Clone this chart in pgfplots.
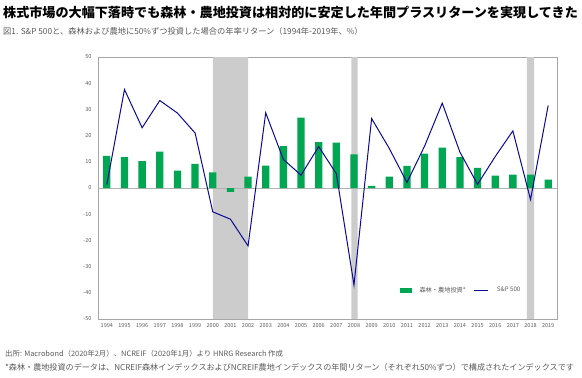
\documentclass[border=0pt]{standalone}
\usepackage{pgfplots}
\pgfplotsset{compat=1.18}
\usepackage{fontspec}
\setmainfont{Noto Sans CJK JP}
\definecolor{bargreen}{RGB}{0,166,81}
\definecolor{linenavy}{RGB}{10,10,150}
\definecolor{shade}{RGB}{204,204,204}
\definecolor{txtgray}{RGB}{90,90,90}
\begin{document}
\begin{tikzpicture}
\path[use as bounding box] (0,0) rectangle (582pt,378pt);
\node[anchor=west, inner sep=0pt] at (3pt,366pt) {\fontsize{13.1}{15}\selectfont\bfseries 株式市場の大幅下落時でも森林・農地投資は相対的に安定した年間プラスリターンを実現してきた};
\node[anchor=west, inner sep=0pt, text=txtgray] at (3pt,347pt) {\fontsize{8.25}{10}\selectfont 図1. S\&P 500と、森林および農地に50\%ずつ投資した場合の年率リターン（1994年-2019年、\%）};
\node[anchor=west, inner sep=0pt, text=txtgray] at (5pt,24pt) {\fontsize{7.4}{8}\selectfont 出所: Macrobond（2020年2月）、NCREIF（2020年1月）より HNRG Research 作成};
\node[anchor=west, inner sep=0pt, text=txtgray] at (5pt,11pt) {\fontsize{8.1}{9}\selectfont *森林・農地投資のデータは、NCREIF森林インデックスおよびNCREIF農地インデックスの年間リターン（それぞれ50\%ずつ）で構成されたインデックスです};
\begin{axis}[
  at={(98pt,59pt)}, anchor=south west,
  width=459pt, height=262pt, scale only axis,
  xmin=-0.5, xmax=25.5, ymin=-50, ymax=50,
  ytick={-50,-40,-30,-20,-10,0,10,20,30,40,50},
  xtick={0,...,25},
  xticklabels={1994,1995,1996,1997,1998,1999,2000,2001,2002,2003,2004,2005,2006,2007,2008,2009,2010,2011,2012,2013,2014,2015,2016,2017,2018,2019},
  axis line style={gray!70},
  major tick length=0pt,
  tick label style={font=\fontsize{5.5}{6}\selectfont, text=txtgray},
  /pgf/number format/assume math mode=true,
  yticklabel style={xshift=-3pt},
  xticklabel style={yshift=-1pt},
  legend style={at={(0.65,0.11)}, anchor=west, draw=none, fill=none, font=\fontsize{6.2}{7}\selectfont, text=txtgray, legend columns=2, column sep=6pt},
  legend cell align=left,
]
\addplot[draw=none, fill=shade, forget plot] coordinates {(6,-50) (6,50) (8,50) (8,-50) (6,-50)};
\addplot[draw=none, fill=shade, forget plot] coordinates {(13.85,-50) (13.85,50) (14.2,50) (14.2,-50) (13.85,-50)};
\addplot[draw=none, fill=shade, forget plot] coordinates {(23.8,-50) (23.8,50) (24.2,50) (24.2,-50) (23.8,-50)};
\addplot[gray!60, forget plot] coordinates {(-0.5,0) (25.5,0)};
\addplot[ybar, bar width=7.3pt, fill=bargreen, draw=none,
  legend image code/.code={\fill[bargreen] (0pt,-2.5pt) rectangle (12pt,2.5pt);}]
 coordinates {
 (0,12.3) (1,11.8) (2,10.3) (3,13.9) (4,6.6) (5,9.2) (6,6.0) (7,-1.5) (8,4.3) (9,8.5)
 (10,16.0) (11,26.9) (12,17.5) (13,17.3) (14,12.8) (15,0.8) (16,4.3) (17,8.4) (18,13.1) (19,15.4)
 (20,11.8) (21,7.7) (22,4.7) (23,5.1) (24,5.1) (25,3.2)};
\addlegendentry{森林・農地投資*}
\addplot[linenavy, line width=1pt, mark=none,
  legend image code/.code={\draw[linenavy, line width=1pt] (0pt,0pt) -- (14pt,0pt);}]
 coordinates {
 (0,1.3) (1,37.6) (2,23.0) (3,33.4) (4,28.6) (5,21.0) (6,-9.1) (7,-11.9) (8,-22.1) (9,28.7)
 (10,10.9) (11,4.9) (12,15.8) (13,5.5) (14,-37.0) (15,26.5) (16,15.1) (17,2.1) (18,16.0) (19,32.4)
 (20,13.7) (21,1.4) (22,12.0) (23,21.8) (24,-4.4) (25,31.5)};
\addlegendentry{S\&P 500}
\end{axis}
\end{tikzpicture}
\end{document}
